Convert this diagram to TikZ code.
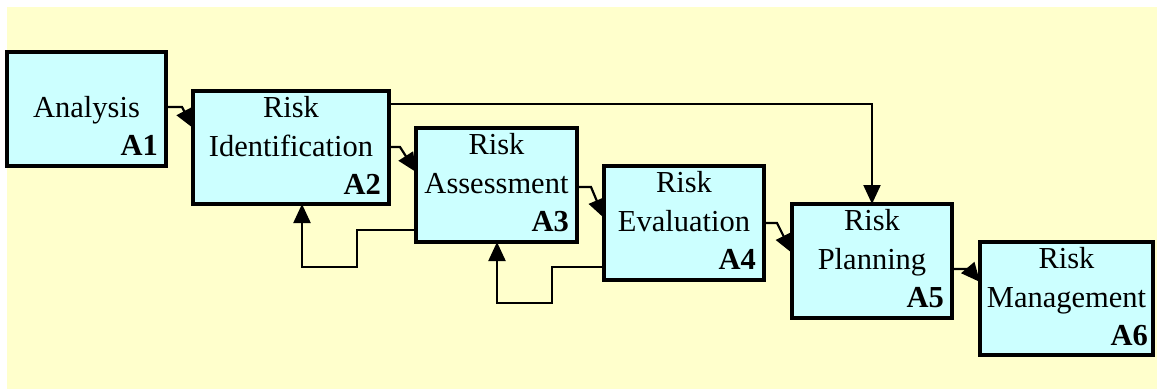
\documentclass[tikz,border=0pt]{standalone}
\usepackage{fontspec}
\setmainfont{Liberation Serif}
\usetikzlibrary{arrows.meta,calc}
\definecolor{paneyellow}{HTML}{FFFFCC}
\definecolor{boxcyan}{HTML}{CCFFFF}
\begin{document}
\begin{tikzpicture}[x=1pt,y=-1pt,
  actbox/.style={draw=black, fill=boxcyan, line width=4pt, rectangle,
    inner sep=0pt, outer sep=0pt},
  boxtext/.style={font=\fontsize{30.5}{38}\selectfont, inner sep=0pt, anchor=base},
  boxid/.style={font=\fontsize{30.5}{38}\selectfont\bfseries, inner sep=0pt, anchor=base east},
  flow/.style={draw=black, line width=2.2pt, -{Triangle[length=19pt,width=17pt]}}]
\useasboundingbox (0,0) rectangle (1157,389);
\fill[paneyellow] (7,7) rectangle (1157,389);

% activity boxes
\node[actbox, minimum width=159pt, minimum height=114pt] (A1) at (86.5,109) {};
\node[actbox, minimum width=196pt, minimum height=113pt] (A2) at (291,147.5) {};
\node[actbox, minimum width=161pt, minimum height=114pt] (A3) at (496.5,185) {};
\node[actbox, minimum width=160pt, minimum height=114pt] (A4) at (684,223) {};
\node[actbox, minimum width=160pt, minimum height=114pt] (A5) at (872,261) {};
\node[actbox, minimum width=173pt, minimum height=113pt] (A6) at (1066.5,298.5) {};

% box titles and identifiers
\node[boxtext] (A1a) at ($(A1.north)+(0,65)$) {Analysis};
\node[boxid] (A1id) at ($(A1.north east)+(-8,103)$) {A1};

\node[boxtext] (A2a) at ($(A2.north)+(0,26)$) {Risk};
\node[boxtext] (A2b) at ($(A2.north)+(0,65)$) {Identification};
\node[boxid] (A2id) at ($(A2.north east)+(-8,103)$) {A2};

\node[boxtext] (A3a) at ($(A3.north)+(0,26)$) {Risk};
\node[boxtext] (A3b) at ($(A3.north)+(0,65)$) {Assessment};
\node[boxid] (A3id) at ($(A3.north east)+(-8,103)$) {A3};

\node[boxtext] (A4a) at ($(A4.north)+(0,26)$) {Risk};
\node[boxtext] (A4b) at ($(A4.north)+(0,65)$) {Evaluation};
\node[boxid] (A4id) at ($(A4.north east)+(-8,103)$) {A4};

\node[boxtext] (A5a) at ($(A5.north)+(0,26)$) {Risk};
\node[boxtext] (A5b) at ($(A5.north)+(0,65)$) {Planning};
\node[boxid] (A5id) at ($(A5.north east)+(-8,103)$) {A5};

\node[boxtext] (A6a) at ($(A6.north)+(0,26)$) {Risk};
\node[boxtext] (A6b) at ($(A6.north)+(0,65)$) {Management};
\node[boxid] (A6id) at ($(A6.north east)+(-5,103)$) {A6};

% forward flow between consecutive boxes
\draw[flow] ($(A1.north east)+(0,55)$) -- ++(16,0) -- ($(A2.north west)+(0,37)$);
\draw[flow] ($(A2.north east)+(0,56)$) -- ++(11,0) -- ($(A3.north west)+(0,44)$);
\draw[flow] ($(A3.north east)+(0,59)$) -- ++(14,0) -- ($(A4.north west)+(0,52)$);
\draw[flow] ($(A4.north east)+(0,57)$) -- ++(13,0) -- ($(A5.north west)+(0,49)$);
\draw[flow] ($(A5.north east)+(0,65)$) -- ++(17,0) -- ($(A6.north west)+(0,40)$);

% identification feeds planning directly
\draw[flow] ($(A2.north east)+(0,13)$) -| (A5.north);

% feedback loops
\draw[flow] ($(A3.north west)+(0,102)$) -- ++(-59,0) -- ++(0,37) -| ($(A2.south west)+(109,0)$);
\draw[flow] ($(A4.north west)+(0,101)$) -- ++(-52,0) -- ++(0,36) -| ($(A3.south west)+(81,0)$);
\end{tikzpicture}
\end{document}
